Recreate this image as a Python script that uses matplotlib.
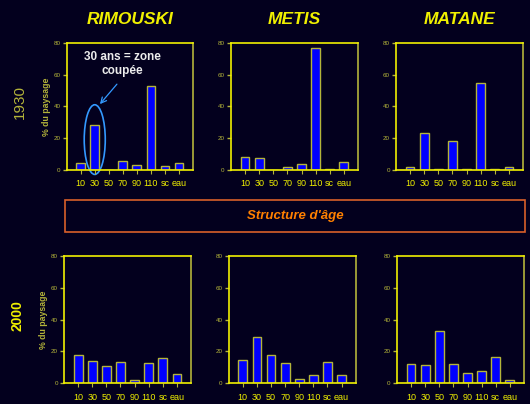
import matplotlib
matplotlib.use("Agg")
import matplotlib.pyplot as plt
from matplotlib.patches import Ellipse, Rectangle

plt.rcParams['font.family'] = ['Liberation Sans', 'DejaVu Sans']

BG = '#03001e'
YELLOW = '#f0f000'
OLIVE = '#b4b43a'

categories = ['10', '30', '50', '70', '90', '110', 'sc', 'eau']
sites = ['RIMOUSKI', 'METIS', 'MATANE']
years = ['1930', '2000']

rimouski_1930 = [4.4, 28, 0, 5.7, 2.7, 53, 2.1, 4.4]
metis_1930 = [8.2, 7.6, 0, 1.9, 3.8, 77, 0.6, 5.0]
matane_1930 = [1.7, 23, 0.6, 18, 0.5, 55, 0.5, 1.7]
rimouski_2000 = [17.9, 14.1, 10.5, 13, 2.1, 12.6, 15.6, 5.5]
metis_2000 = [14.2, 29.1, 17.6, 12.8, 2.5, 5.2, 13.4, 5.2]
matane_2000 = [11.8, 11.3, 32.8, 11.8, 6.3, 7.4, 16.4, 1.9]

data = [[rimouski_1930, metis_1930, matane_1930],
        [rimouski_2000, metis_2000, matane_2000]]

fig = plt.figure(figsize=(5.3, 4.04), dpi=100)
fig.patch.set_facecolor(BG)

# axes rectangles (left, bottom, width, height)
positions = [[(0.1258, 0.580, 0.2383, 0.3136), (0.4358, 0.580, 0.2396, 0.3136), (0.7472, 0.580, 0.2396, 0.3136)],
             [(0.1208, 0.052, 0.2396, 0.3143), (0.4315, 0.052, 0.2396, 0.3143), (0.749, 0.052, 0.2396, 0.3143)]]

axes = []
for r in range(2):
    row = []
    for c in range(3):
        ax = fig.add_axes(positions[r][c])
        ax.set_facecolor(BG)
        x = range(len(categories))
        ax.bar(x, data[r][c], width=0.62, color='#0000ff', edgecolor=OLIVE, linewidth=1.0)
        ax.set_xlim(-1.0, 8.0)
        ax.set_ylim(0, 80)
        ax.set_yticks([0, 20, 40, 60, 80])
        ax.set_xticks(list(x))
        ax.set_xticklabels(categories)
        ax.tick_params(axis='y', colors=OLIVE, labelsize=4.5, length=3, width=1, pad=1.5)
        ax.tick_params(axis='x', colors=OLIVE, labelcolor=YELLOW, labelsize=6.5, length=3, width=0.8, pad=4)
        for s in ax.spines.values():
            s.set_color(YELLOW)
            s.set_linewidth(1.2)
        ax.spines['right'].set_color(OLIVE)
        if c == 0:
            ax.set_ylabel('% du paysage', color=OLIVE, fontsize=6.3, fontweight='bold', labelpad=2)
        row.append(ax)
    axes.append(row)

# site titles
for c, name in enumerate(sites):
    l, b, w, h = positions[0][c]
    fig.text(l + w / 2, 1 - 20 / 404, name, color=YELLOW, fontsize=12.5,
             fontweight='bold', fontstyle='italic', ha='center', va='center')

# year labels
fig.text(20 / 530, 1 - 102 / 404, years[0], color=OLIVE, fontsize=11, rotation=90,
         ha='center', va='center')
fig.text(17 / 530, 1 - 316 / 404, years[1], color=YELLOW, fontsize=10, fontweight='bold',
         rotation=90, ha='center', va='center')

# middle box
fig.patches.append(Rectangle((64.7 / 530, 1 - 231.7 / 404), (525 - 64.7) / 530, 31.7 / 404,
                             transform=fig.transFigure, fill=False, edgecolor='#d8602a',
                             linewidth=1.2))
fig.text(295 / 530, 1 - 216 / 404, "Structure d'âge", color='#ff8000', fontsize=9.5,
         fontweight='bold', fontstyle='italic', ha='center', va='center')

# annotation on Rimouski 1930
ax = axes[0][0]
ax.add_patch(Ellipse((1, 19), width=1.5, height=44, fill=False, edgecolor='#3399ff',
                     linewidth=1.2, clip_on=False))
ax.annotate('', xy=(1.37, 41.4), xytext=(2.58, 54),
            arrowprops=dict(arrowstyle='->', color='#3399ff', lw=0.9, shrinkA=0, shrinkB=0))
ax.text(3.0, 66.5, '30 ans = zone\ncoupée', color='#ececec', fontsize=8.5, fontweight='bold',
        ha='center', va='center', linespacing=1.25)

fig.savefig('out.png', dpi=100, facecolor=BG)
